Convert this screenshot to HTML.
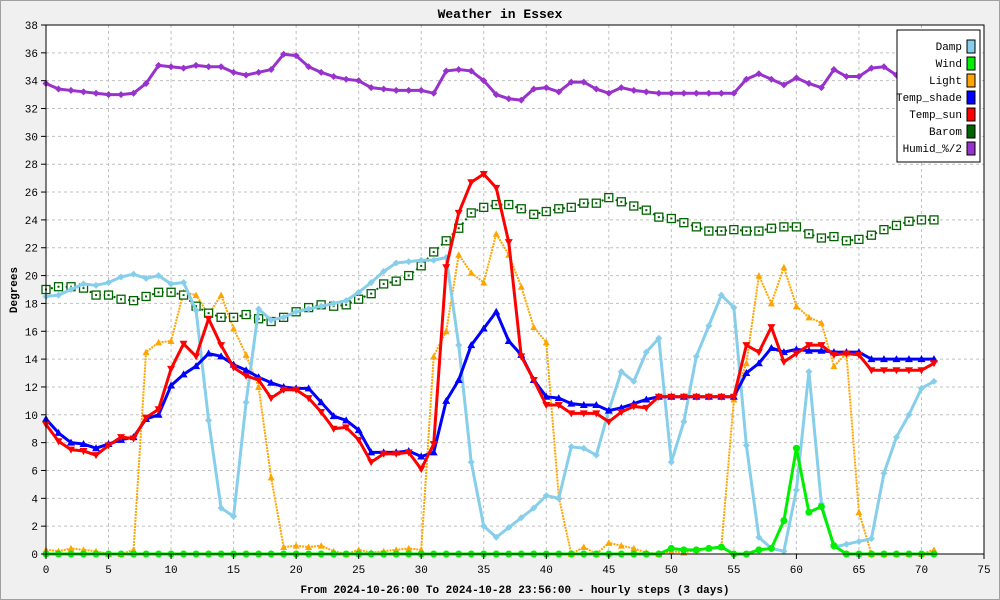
<!DOCTYPE html>
<html><head><meta charset="utf-8"><style>
body{margin:0;background:#f0f0f0;}
svg{display:block;font-family:"Liberation Mono",monospace;}
</style></head><body>
<svg id="chart" width="1000" height="600" viewBox="0 0 1000 600">
<rect x="0.5" y="0.5" width="999" height="599" fill="#f0f0f0" stroke="#a0a0a0"/>
<rect x="46" y="25" width="938" height="529" fill="#ffffff"/>
<g id="grid"></g>
<g id="series"></g>
<g id="axes"></g>
<text x="500" y="18" text-anchor="middle" font-size="13" font-weight="bold">Weather in Essex</text>
<text x="17" y="290" text-anchor="middle" font-size="11" font-weight="bold" transform="rotate(-90 17 290)">Degrees</text>
<text x="515" y="593" text-anchor="middle" font-size="11" font-weight="bold">From 2024-10-26:00 To 2024-10-28 23:56:00 - hourly steps (3 days)</text>
<g id="legend"></g>
</svg>
<script>
const hours = Array.from({length:72},(_, i)=>i);
const damp = [18.5,18.6,19.0,19.4,19.3,19.5,19.9,20.1,19.8,20.0,19.4,19.5,17.5,9.6,3.3,2.7,10.9,17.6,16.8,17.0,17.4,17.6,17.8,18.0,18.2,18.8,19.5,20.3,20.9,21.0,21.1,21.1,21.3,15.0,6.6,2.0,1.2,1.9,2.6,3.3,4.2,4.0,7.7,7.6,7.1,10.3,13.1,12.4,14.5,15.5,6.6,9.5,14.2,16.4,18.6,17.7,7.8,1.2,0.4,0.2,4.6,13.1,3.6,0.5,0.7,0.9,1.1,5.8,8.4,10.0,11.9,12.4];
const wind = [0,0,0,0,0,0,0,0,0,0,0,0,0,0,0,0,0,0,0,0,0,0,0,0,0,0,0,0,0,0,0,0,0,0,0,0,0,0,0,0,0,0,0,0,0,0,0,0,0,0,0.4,0.3,0.3,0.4,0.5,0.0,0.0,0.3,0.4,2.4,7.6,3.0,3.4,0.6,0,0,0,0,0,0,0,0];
const light = [0.3,0.2,0.4,0.3,0.2,0.0,0.0,0.3,14.5,15.2,15.3,18.8,18.6,17.2,18.6,16.2,14.3,12.0,5.5,0.5,0.6,0.5,0.6,0.2,0.0,0.3,0.1,0.2,0.3,0.4,0.3,14.2,16.0,21.5,20.2,19.5,23.0,21.5,19.2,16.3,15.2,4.1,0.0,0.5,0.0,0.8,0.6,0.4,0.1,0.0,0.2,0.1,0.3,0.4,0.5,11.1,13.7,20.0,18.0,20.6,17.8,17.0,16.6,13.5,14.4,3.0,0.0,0.0,0.0,0.0,0.0,0.3];
const tempShade = [9.7,8.7,8.0,7.9,7.6,7.9,8.2,8.4,9.7,10.0,12.1,12.9,13.5,14.4,14.2,13.6,13.2,12.7,12.3,12.0,11.9,11.9,10.9,9.9,9.6,8.9,7.3,7.3,7.3,7.4,7.0,7.3,11.0,12.5,15.0,16.2,17.4,15.3,14.3,12.5,11.3,11.2,10.8,10.7,10.7,10.3,10.5,10.8,11.1,11.3,11.3,11.3,11.3,11.3,11.3,11.3,13.0,13.7,14.8,14.5,14.7,14.6,14.6,14.5,14.5,14.5,14.0,14.0,14.0,14.0,14.0,14.0];
const tempSun = [9.3,8.1,7.5,7.4,7.1,7.8,8.4,8.3,9.8,10.4,13.3,15.1,14.2,16.9,15.0,13.4,12.8,12.5,11.2,11.8,11.8,11.2,10.2,9.0,9.1,8.2,6.6,7.2,7.2,7.3,6.1,7.9,20.6,24.5,26.7,27.3,26.3,22.4,14.2,12.5,10.7,10.7,10.1,10.1,10.1,9.5,10.2,10.6,10.5,11.3,11.3,11.3,11.3,11.3,11.3,11.3,15.0,14.5,16.3,13.8,14.4,15.0,15.0,14.3,14.4,14.3,13.2,13.2,13.2,13.2,13.2,13.7];
const barom = [19.0,19.2,19.2,19.1,18.6,18.6,18.3,18.2,18.5,18.8,18.8,18.6,17.8,17.3,17.0,17.0,17.2,16.9,16.7,17.0,17.4,17.7,17.9,17.8,17.9,18.3,18.7,19.4,19.6,20.0,20.7,21.7,22.5,23.4,24.5,24.9,25.1,25.1,24.8,24.4,24.6,24.8,24.9,25.2,25.2,25.6,25.3,25.0,24.7,24.2,24.1,23.8,23.5,23.2,23.2,23.3,23.2,23.2,23.4,23.5,23.5,23.0,22.7,22.8,22.5,22.6,22.9,23.3,23.6,23.9,24.0,24.0];
const humid = [33.8,33.4,33.3,33.2,33.1,33.0,33.0,33.1,33.8,35.1,35.0,34.9,35.1,35.0,35.0,34.6,34.4,34.6,34.8,35.9,35.8,35.0,34.6,34.3,34.1,34.0,33.5,33.4,33.3,33.3,33.3,33.1,34.7,34.8,34.7,34.0,33.0,32.7,32.6,33.4,33.5,33.2,33.9,33.9,33.4,33.1,33.5,33.3,33.2,33.1,33.1,33.1,33.1,33.1,33.1,33.1,34.1,34.5,34.1,33.7,34.2,33.8,33.5,34.8,34.3,34.3,34.9,35.0,34.4,34.1,34.0,34.0];
const yTicks = [0,2,4,6,8,10,12,14,16,18,20,22,24,26,28,30,32,34,36,38];
const xTicks = [0,5,10,15,20,25,30,35,40,45,50,55,60,65,70,75];
const legendLabels = ["Damp","Wind","Light","Temp_shade","Temp_sun","Barom","Humid_%/2"];

const NS="http://www.w3.org/2000/svg";
const X0=46,X1=984,Y0=554,Y1=25;
const xs=h=>X0+(h/75)*(X1-X0);
const ys=v=>Y0-(v/38)*(Y0-Y1);
function mk(tag,attrs,parent){const e=document.createElementNS(NS,tag);for(const k in attrs)e.setAttribute(k,attrs[k]);parent.appendChild(e);return e;}
const grid=document.getElementById('grid'),axes=document.getElementById('axes'),ser=document.getElementById('series'),leg=document.getElementById('legend');

yTicks.forEach(t=>{
  const y=ys(t);
  if(t>0){const g=mk('line',{x1:X0,x2:X1,y1:y,y2:y,stroke:'#c0c0c0','stroke-dasharray':'3,3'},grid);
  
  }
  const tk=mk('line',{x1:X0-5,x2:X0,y1:y,y2:y,stroke:'#000'},axes);
  
  
  const tx=mk('text',{x:X0-8,y:y+4,'text-anchor':'end','font-size':'11'},axes);
  tx.textContent=t;
  
  
});
xTicks.forEach(t=>{
  const x=xs(t);
  if(t>0&&t<75){const g=mk('line',{x1:x,x2:x,y1:Y1,y2:Y0,stroke:'#c0c0c0','stroke-dasharray':'3,3'},grid);
  
  }
  const tk=mk('line',{x1:x,x2:x,y1:Y0,y2:Y0+5,stroke:'#000'},axes);
  
  
  const tx=mk('text',{x:x,y:Y0+19,'text-anchor':'middle','font-size':'11'},axes);
  tx.textContent=t;
  
  
});
const fr=mk('rect',{x:X0,y:Y1,width:X1-X0,height:Y0-Y1,fill:'none',stroke:'#000'},axes);



function marker(kind,x,y,color,g){
  if(kind==='circle')return mk('circle',{cx:x,cy:y,r:3.5,fill:color},g);
  if(kind==='up')return mk('polygon',{points:`${x-4},${y+3} ${x+4},${y+3} ${x},${y-4}`,fill:color},g);
  if(kind==='upsm')return mk('polygon',{points:`${x-3.5},${y+3} ${x+3.5},${y+3} ${x},${y-3.5}`,fill:color},g);
  if(kind==='down')return mk('polygon',{points:`${x-4},${y-3} ${x+4},${y-3} ${x},${y+4}`,fill:color},g);
  if(kind==='square'){const r=mk('rect',{x:x-4,y:y-4,width:8,height:8,fill:'#fff',stroke:color,'stroke-width':1.3},g);mk('rect',{x:x-1,y:y-1,width:2,height:2,fill:color},g);return r;}
  return mk('polygon',{points:`${x},${y-3.5} ${x+3.5},${y} ${x},${y+3.5} ${x-3.5},${y}`,fill:color},g);
}
function drawSeries(name,vals,color,width,dash,kind){
  const g=mk('g',{},ser);
  
  
  const pts=vals.map((v,i)=>xs(hours[i])+','+ys(v)).join(' ');
  const pl=mk('polyline',{points:pts,fill:'none',stroke:color,'stroke-width':width,'stroke-linejoin':'round'},g);
  if(dash)pl.setAttribute('stroke-dasharray',dash);
  
  
  vals.forEach((v,i)=>{
    const m=marker(kind,xs(hours[i]),ys(v),color,g);
    
    
  });
}
drawSeries('light',light,'#ffa500',2,'2,1','upsm');
drawSeries('barom',barom,'#006400',2,'2,3','square');
drawSeries('humid',humid,'#9932cc',3,null,'diamond');
drawSeries('damp',damp,'#87ceeb',3,null,'diamond');
drawSeries('temp-shade',tempShade,'#0000ff',3,null,'up');
drawSeries('temp-sun',tempSun,'#ff0000',3,null,'down');
drawSeries('wind',wind,'#00ee00',3,null,'circle');

const lb=mk('rect',{x:897,y:30,width:83,height:132,fill:'#fff',stroke:'#000'},leg);


const lcolors=['#87ceeb','#00ee00','#ffa500','#0000ff','#ff0000','#006400','#9932cc'];
legendLabels.forEach((l,i)=>{
  const y=46+i*17;
  const t=mk('text',{x:962,y:y+4,'text-anchor':'end','font-size':'11'},leg);
  t.textContent=l;
  
  
  const s=mk('rect',{x:967,y:y-6,width:8,height:13,fill:lcolors[i],stroke:'#000'},leg);
  
  
});
</script>
</body></html>
